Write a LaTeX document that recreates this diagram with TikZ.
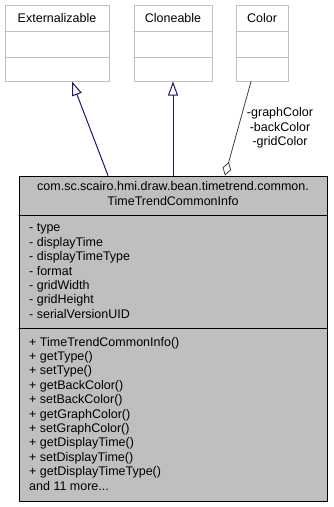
\documentclass[tikz,border=0pt]{standalone}
\usepackage{fontspec}
\setmainfont{Liberation Sans}
\usetikzlibrary{arrows.meta}

\definecolor{boxgray}{gray}{0.75}
\definecolor{usegray}{gray}{0.25}
\definecolor{midnightblue}{RGB}{25,25,112}

\tikzset{
  classbox/.style={draw=boxgray, fill=white, line width=1pt, inner sep=0pt},
  mainbox/.style={draw=black, fill=boxgray, line width=1pt, inner sep=0pt},
  classname/.style={anchor=base, inner sep=0pt},
  members/.style={anchor=base west, align=left, inner sep=0pt},
  inherit/.style={draw=midnightblue, line width=1pt, -{Triangle[open, length=14pt, width=10pt]}},
  uses/.style={draw=usegray, line width=0.8pt, {Diamond[open, length=14pt, width=9pt]}-},
}

\begin{document}
\begin{tikzpicture}[x=1pt, y=-1pt, font=\fontsize{12.5}{14.4}\selectfont, line join=round, line cap=round]
  \useasboundingbox (0,0) rectangle (333,507);

  % the three classes on top
  \node[classbox, minimum width=104pt, minimum height=76pt] (ext) at (57,43) {};
  \node[classbox, minimum width=78pt, minimum height=76pt] (clone) at (173,43) {};
  \node[classbox, minimum width=52pt, minimum height=76pt] (color) at (262,43) {};
  \node[classname] (extname) at (57,22) {Externalizable};
  \node[classname] (clonename) at (173,22) {Cloneable};
  \node[classname] (colorname) at (262,22) {Color};
  \draw[boxgray, line width=1pt] (5,31) -- (109,31) (5,57) -- (109,57);
  \draw[boxgray, line width=1pt] (134,31) -- (212,31) (134,57) -- (212,57);
  \draw[boxgray, line width=1pt] (236,31) -- (288,31) (236,57) -- (288,57);

  % TimeTrendCommonInfo (base anchor = last line)
  \node[mainbox, minimum width=308pt, minimum height=325pt] (info) at (173,338.5) {};
  \draw[line width=1pt] (19,215) -- (327,215) (19,328) -- (327,328);
  \node[classname, align=center] (infoname) at (173,205.7)
    {com.sc.scairo.hmi.draw.bean.timetrend.common.\\[0.6pt]TimeTrendCommonInfo};
  \node[members] (attrs) at (29,318.3) {- type\\- displayTime\\- displayTimeType\\- format\\- gridWidth\\- gridHeight\\- serialVersionUID};
  \node[members] (ops) at (29,490) {+ TimeTrendCommonInfo()\\+ getType()\\+ setType()\\+ getBackColor()\\+ setBackColor()\\+ getGraphColor()\\+ setGraphColor()\\+ getDisplayTime()\\+ setDisplayTime()\\+ getDisplayTimeType()\\and 11 more...};

  % relations
  \draw[inherit] ([xshift=-65pt]info.north) -- ([xshift=15pt]ext.south);
  \draw[inherit] (info.north) -- (clone.south);
  \draw[uses] ([xshift=52pt]info.north) -- ([xshift=-11pt]color.south);
  \node[align=center, inner sep=0pt, font=\fontsize{12.5}{14.6}\selectfont] (rolelabel) at (280,128) {-graphColor\\-backColor\\-gridColor};
\end{tikzpicture}
\end{document}
